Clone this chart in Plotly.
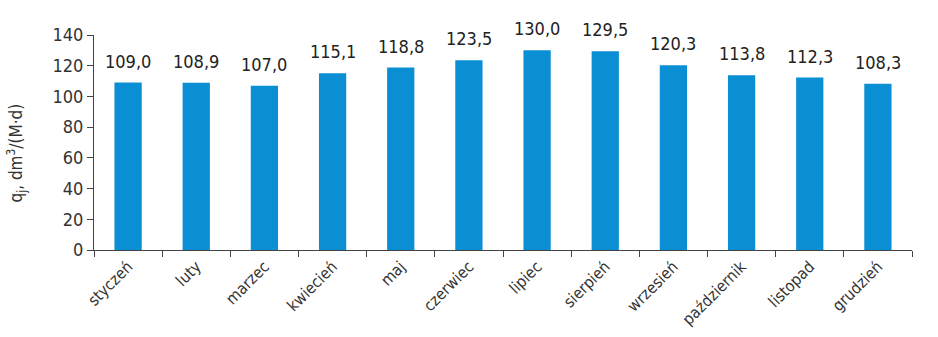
import plotly.graph_objects as go

months = ["styczeń", "luty", "marzec", "kwiecień", "maj", "czerwiec",
          "lipiec", "sierpień", "wrzesień", "październik", "listopad", "grudzień"]
values = [109.0, 108.9, 107.0, 115.1, 118.8, 123.5, 130.0, 129.5, 120.3, 113.8, 112.3, 108.3]
y_title = "q<sub>j</sub>, dm<sup>3</sup>/(M·d)"

FONT = "DejaVu Sans Condensed, Liberation Sans Narrow, sans-serif"

fig = go.Figure()
fig.add_trace(go.Bar(
    x=months, y=values,
    marker=dict(color="#0b8fd4", line=dict(width=0)),
    width=0.4,
    hoverinfo="x+y",
))

for m, v in zip(months, values):
    fig.add_annotation(
        x=m, y=v, xref="x", yref="y",
        text=f"{v:.1f}".replace(".", ","),
        showarrow=False, yanchor="bottom", yshift=9,
        font=dict(family=FONT, size=18, color="#222222"),
    )

# y-axis title placed as a rotated annotation
fig.add_annotation(
    x=-0.095, y=0.45, xref="paper", yref="paper",
    text=y_title, textangle=-90, showarrow=False,
    xanchor="center", yanchor="middle",
    font=dict(family=FONT, size=17, color="#333333"),
)

fig.update_layout(
    width=938, height=337,
    margin=dict(l=94, r=26, t=35, b=87),
    paper_bgcolor="white", plot_bgcolor="white",
    separators=",.",
    showlegend=False,
    font=dict(family=FONT, color="#333333"),
)
fig.update_yaxes(
    range=[0, 140], dtick=20, showgrid=False, zeroline=False,
    showline=True, linecolor="#444444", linewidth=1,
    ticks="outside", ticklen=6, tickcolor="#444444",
    tickfont=dict(family=FONT, size=18, color="#333333"),
    automargin=False,
)
fig.update_xaxes(
    showgrid=False, showline=True, linecolor="#444444", linewidth=1,
    ticks="outside", ticklen=6, tickcolor="#444444", tickson="boundaries",
    tickangle=-45,
    tickfont=dict(family=FONT, size=16, color="#333333"),
    automargin=False,
)

fig.write_html("out.html")
